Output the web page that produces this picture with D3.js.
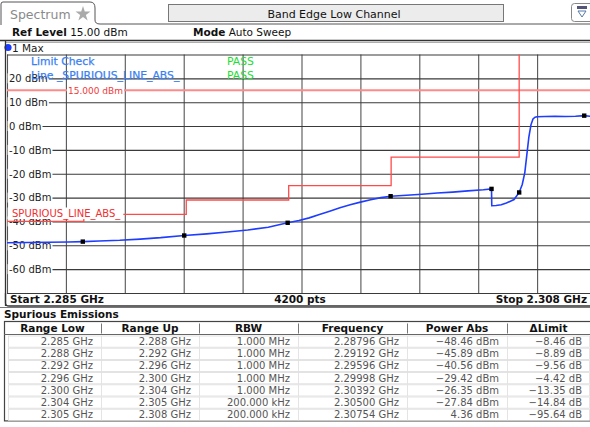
<!DOCTYPE html>
<html>
<head>
<meta charset="utf-8">
<script src="https://cdn.jsdelivr.net/npm/d3@7"></script>
<style>
  html, body { margin: 0; padding: 0; background: #fff; }
  svg { display: block; font-family: "DejaVu Sans", Verdana, sans-serif; }
</style>
</head>
<body>
<svg id="chart" width="590" height="427"></svg>
<script>
// ---------------- DATA ----------------
const yTickValues = [30, 20, 10, 0, -10, -20, -30, -40, -50, -60, -70];
const yTickLabels = ["", "20 dBm", "10 dBm", "0 dBm", "-10 dBm", "-20 dBm", "-30 dBm", "-40 dBm", "-50 dBm", "-60 dBm", ""];
const xGridValues = [2.285, 2.2873, 2.2896, 2.2919, 2.2942, 2.2965, 2.2988, 2.3011, 2.3034, 2.3057, 2.308];

// measured trace (frequency in GHz, level in dBm)
const traceFreq  = [2.2850, 2.2858, 2.2866, 2.2874, 2.28796, 2.2886, 2.2894, 2.2902, 2.2910, 2.29192,
                    2.2928, 2.2936, 2.2944, 2.2952, 2.29596, 2.2964, 2.2968, 2.2972, 2.2976, 2.2980,
                    2.2984, 2.2988, 2.2992, 2.2996, 2.29998, 2.3006, 2.3012, 2.3018, 2.3024, 2.3030,
                    2.3036, 2.30392, 2.30393, 2.3041, 2.3043, 2.3045, 2.3048, 2.30500, 2.30512, 2.30522,
                    2.30530, 2.30538, 2.30546, 2.30554, 2.30562, 2.3057, 2.3060, 2.3064, 2.3068, 2.3072,
                    2.30754, 2.3078, 2.3080];
const traceLevel = [-48.9, -48.8, -48.7, -48.6, -48.46, -48.2, -47.9, -47.4, -46.8, -45.89,
                    -45.2, -44.4, -43.6, -42.4, -40.56, -39.6, -38.5, -37.1, -35.7, -34.3,
                    -33.0, -31.9, -30.9, -30.0, -29.42, -29.0, -28.6, -28.1, -27.7, -27.2,
                    -26.7, -26.35, -33.4, -33.3, -33.0, -32.3, -30.8, -27.84, -24.5, -19.5,
                    -12.0, -4.5, 0.5, 3.0, 3.7, 3.9, 4.0, 4.1, 4.0, 4.1,
                    4.36, 4.1, 4.0];

// spurious emissions table
const rangeLow  = [2.285, 2.288, 2.292, 2.296, 2.300, 2.304, 2.305];
const rangeUp   = [2.288, 2.292, 2.296, 2.300, 2.304, 2.305, 2.308];
const rbwLabels = ["1.000 MHz", "1.000 MHz", "1.000 MHz", "1.000 MHz", "1.000 MHz", "200.000 kHz", "200.000 kHz"];
const peakFreq  = [2.28796, 2.29192, 2.29596, 2.29998, 2.30392, 2.30500, 2.30754];
const powerAbs  = [-48.46, -45.89, -40.56, -29.42, -26.35, -27.84, 4.36];
const deltaLimit= [-8.46, -8.89, -9.56, -4.42, -13.35, -14.84, -95.64];
const limitLevel = powerAbs.map((p, i) => +(p - deltaLimit[i]).toFixed(2)); // -40,-37,-31,-25,-13,-13,100
const refLevel = 15;
const tableHeaders = ["Range Low", "Range Up", "RBW", "Frequency", "Power Abs", "\u0394Limit"];

// ---------------- LAYOUT ----------------
const svg = d3.select("#chart");
const PL = 7, PR = 596, PT = 54.5, PB = 293;
const x = d3.scaleLinear().domain([2.285, 2.308]).range([PL, PR]);
const y = d3.scaleLinear().domain([-70, 30]).range([PB, PT]);

// helper: text with white background box
function labelWithBg(parent, tx, ty, str, size, color, boxX, boxY, boxH, padR) {
  const g = parent.append("g");
  const r = g.append("rect").attr("fill", "#fff");
  const t = g.append("text").attr("x", tx).attr("y", ty).attr("font-size", size).attr("fill", color).text(str);
  const bb = t.node().getBBox();
  const bx = boxX == null ? bb.x - 1 : boxX;
  r.attr("x", bx).attr("y", boxY).attr("width", bb.x + bb.width + (padR || 1) - bx).attr("height", boxH);
  return g;
}

// ---------- header ----------
svg.append("path")
  .attr("d", "M1,25 L1,4 Q1,2 3,2 L90,2 Q95,2 95,8 L95,20 Q95,24 100,24 L590,24")
  .attr("fill", "none").attr("stroke", "#555").attr("stroke-width", 1);
svg.append("text").attr("x", 10).attr("y", 19).attr("font-size", 12.5).attr("fill", "#8a8a8a").text("Spectrum");
const star = d3.symbol().type(d3.symbolStar).size(70);
svg.append("path").attr("d", star()).attr("transform", "translate(83,14)").attr("fill", "#aaa");
svg.append("rect").attr("x", 168.5).attr("y", 4.5).attr("width", 335).attr("height", 17)
  .attr("fill", "#ececec").attr("stroke", "#777");
svg.append("text").attr("x", 334).attr("y", 17.5).attr("text-anchor", "middle").attr("font-size", 11)
  .attr("fill", "#111").text("Band Edge Low Channel");
svg.append("rect").attr("x", 571.5).attr("y", 3.5).attr("width", 22).attr("height", 18).attr("rx", 3)
  .attr("fill", "#fff").attr("stroke", "#888");
svg.append("rect").attr("x", 577).attr("y", 6).attr("width", 10).attr("height", 3).attr("fill", "#557");
svg.append("path").attr("d", "M578,11 L586,11 L582,17 Z").attr("fill", "none").attr("stroke", "#5577aa");

const refRow = svg.append("text").attr("x", 12).attr("y", 36).attr("font-size", 10.5).attr("fill", "#111");
refRow.append("tspan").attr("font-weight", "bold").text("Ref Level");
refRow.append("tspan").text(" " + refLevel.toFixed(2) + " dBm");
const modeRow = svg.append("text").attr("x", 193).attr("y", 36).attr("font-size", 10.5).attr("fill", "#111");
modeRow.append("tspan").attr("font-weight", "bold").text("Mode");
modeRow.append("tspan").text(" Auto Sweep");

svg.append("line").attr("x1", 0).attr("x2", 590).attr("y1", 40.5).attr("y2", 40.5).attr("stroke", "#333").attr("stroke-width", 1.5);
svg.append("line").attr("x1", 5).attr("x2", 590).attr("y1", 42.5).attr("y2", 42.5).attr("stroke", "#999").attr("stroke-width", 0.8);
svg.append("circle").attr("cx", 8).attr("cy", 47.5).attr("r", 3.6).attr("fill", "#1a3cff");
svg.append("text").attr("x", 12).attr("y", 51.5).attr("font-size", 10.5).attr("fill", "#222").text("1 Max");

svg.append("line").attr("x1", 5.5).attr("x2", 5.5).attr("y1", 41).attr("y2", 306).attr("stroke", "#333").attr("stroke-width", 1.3);

// ---------- plot ----------
svg.append("defs").append("clipPath").attr("id", "clip")
  .append("rect").attr("x", PL).attr("y", PT).attr("width", PR - PL).attr("height", PB - PT);
const plot = svg.append("g");

plot.append("g").attr("transform", `translate(0,${PB})`)
  .call(d3.axisBottom(x).tickValues(xGridValues).tickSize(-(PB - PT)).tickFormat(""))
  .call(g => g.select(".domain").remove())
  .call(g => g.selectAll("line").attr("stroke", "#555").attr("stroke-width", 1.1));
plot.append("g").attr("transform", `translate(${PL},0)`)
  .call(d3.axisLeft(y).tickValues(yTickValues).tickSize(-(PR - PL)).tickFormat(""))
  .call(g => g.select(".domain").remove())
  .call(g => g.selectAll("line").attr("stroke", "#3a3a3a").attr("stroke-width", 1.1));

// y labels with white background
yTickValues.forEach((v, i) => {
  if (!yTickLabels[i]) return;
  labelWithBg(plot, 9, y(v) + 3.8, yTickLabels[i], 10, "#222", PL + 0.6, y(v) - 5, 10, 1);
});

// reference line 15 dBm
plot.append("line").attr("x1", PL).attr("x2", PR).attr("y1", y(refLevel)).attr("y2", y(refLevel))
  .attr("stroke", "#ff8a8a").attr("stroke-width", 2);
labelWithBg(plot, 68, y(refLevel) + 3.5, refLevel.toFixed(3) + " dBm", 9, "#f03a3a", null, y(refLevel) - 4, 8, 1);

// limit line (step)
const limPts = [];
rangeLow.forEach((lo, i) => { limPts.push([lo, limitLevel[i]]); limPts.push([rangeUp[i], limitLevel[i]]); });
plot.append("path").attr("clip-path", "url(#clip)")
  .attr("d", d3.line().x(d => x(d[0])).y(d => y(Math.min(d[1], 40)))(limPts))
  .attr("fill", "none").attr("stroke", "#ff4a4a").attr("stroke-width", 1.3);

// limit label
labelWithBg(plot, 12, 217, "SPURIOUS_LINE_ABS_", 10, "#f03030", PL + 0.6, 207.5, 11.5, 2);

// trace
const trace = traceFreq.map((f, i) => [f, traceLevel[i]]);
plot.append("path").attr("clip-path", "url(#clip)")
  .attr("d", d3.line().x(d => x(d[0])).y(d => y(d[1]))(trace))
  .attr("fill", "none").attr("stroke", "#1f3dff").attr("stroke-width", 1.6);

// markers
plot.selectAll("rect.mk").data(peakFreq).enter().append("rect").attr("class", "mk")
  .attr("x", d => x(d) - 2.2).attr("y", (d, i) => y(powerAbs[i]) - 2.2)
  .attr("width", 4.4).attr("height", 4.4).attr("fill", "#000");

// limit check legend
const legSize = 10.8;
plot.append("text").attr("x", 31).attr("y", 65).attr("font-size", legSize).attr("fill", "#3a7ff2")
  .attr("stroke", "#3a7ff2").attr("stroke-width", 0.25).text("Limit Check");
plot.append("text").attr("x", 31).attr("y", 79).attr("font-size", legSize).attr("fill", "#3a7ff2")
  .attr("stroke", "#3a7ff2").attr("stroke-width", 0.25).text("Line _SPURIOUS_LINE_ABS_");
plot.append("text").attr("x", 227).attr("y", 65).attr("font-size", legSize).attr("fill", "#22dd33").text("PASS");
plot.append("text").attr("x", 227).attr("y", 79).attr("font-size", legSize).attr("fill", "#22dd33").text("PASS");

// ---------- bottom bar ----------
svg.append("path").attr("d", `M5.5,${PB} L5.5,303 Q5.5,306 9,306 L590,306`).attr("fill", "none").attr("stroke", "#333").attr("stroke-width", 1.3);
svg.append("line").attr("x1", 0).attr("x2", 590).attr("y1", 307.5).attr("y2", 307.5).attr("stroke", "#777").attr("stroke-width", 1);
svg.append("text").attr("x", 10).attr("y", 303).attr("font-size", 10.5).attr("font-weight", "bold").attr("fill", "#111")
  .text("Start " + x.domain()[0].toFixed(3) + " GHz");
svg.append("text").attr("x", 300).attr("y", 303).attr("text-anchor", "middle").attr("font-size", 10.5).attr("font-weight", "bold").attr("fill", "#111")
  .text("4200 pts");
svg.append("text").attr("x", 587).attr("y", 303).attr("text-anchor", "end").attr("font-size", 10.5).attr("font-weight", "bold").attr("fill", "#111")
  .text("Stop " + x.domain()[1].toFixed(3) + " GHz");

// ---------- table ----------
svg.append("text").attr("x", 4).attr("y", 318).attr("font-size", 10.5).attr("font-weight", "bold").attr("fill", "#111").text("Spurious Emissions");

const colEdges = [4, 101, 199, 298, 407, 507, 590];
const hdrTop = 321.5, hdrH = 13, rowH = 12.2;
const tbl = svg.append("g");
tbl.append("rect").attr("x", 4.5).attr("y", hdrTop).attr("width", 590).attr("height", hdrH + rowH * 7 + 1)
  .attr("fill", "#fff").attr("stroke", "#444").attr("stroke-width", 1.2);
tbl.append("line").attr("x1", 4).attr("x2", 590).attr("y1", hdrTop + hdrH).attr("y2", hdrTop + hdrH).attr("stroke", "#666");
tableHeaders.forEach((h, i) => {
  tbl.append("text").attr("x", (colEdges[i] + colEdges[i + 1]) / 2).attr("y", hdrTop + 10)
    .attr("text-anchor", "middle").attr("font-size", 10.5).attr("font-weight", "bold").attr("fill", "#111").text(h);
  if (i > 0) tbl.append("line").attr("x1", colEdges[i] + 0.5).attr("x2", colEdges[i] + 0.5)
    .attr("y1", hdrTop + 2).attr("y2", hdrTop + hdrH - 1).attr("stroke", "#777");
});
const rowTop = hdrTop + hdrH;
for (let r = 0; r < 7; r++) {
  const ry = rowTop + r * rowH;
  tbl.append("rect").attr("x", 8.5).attr("y", ry + 1.5).attr("width", 581).attr("height", rowH - 1)
    .attr("fill", "none").attr("stroke", "#ddd").attr("stroke-width", 0.8);
  const cells = [
    rangeLow[r].toFixed(3) + " GHz",
    rangeUp[r].toFixed(3) + " GHz",
    rbwLabels[r],
    peakFreq[r].toFixed(5) + " GHz",
    powerAbs[r].toFixed(2).replace("-", "\u2212") + " dBm",
    deltaLimit[r].toFixed(2).replace("-", "\u2212") + " dB"
  ];
  cells.forEach((c, i) => {
    if (i > 0) tbl.append("line").attr("x1", colEdges[i] + 0.5).attr("x2", colEdges[i] + 0.5)
      .attr("y1", ry + 1.5).attr("y2", ry + rowH + 0.5).attr("stroke", "#ddd").attr("stroke-width", 0.8);
    tbl.append("text").attr("x", colEdges[i + 1] - 8).attr("y", ry + 10.5).attr("text-anchor", "end")
      .attr("font-size", 10).attr("fill", "#555").text(c);
  });
}
</script>
</body>
</html>
